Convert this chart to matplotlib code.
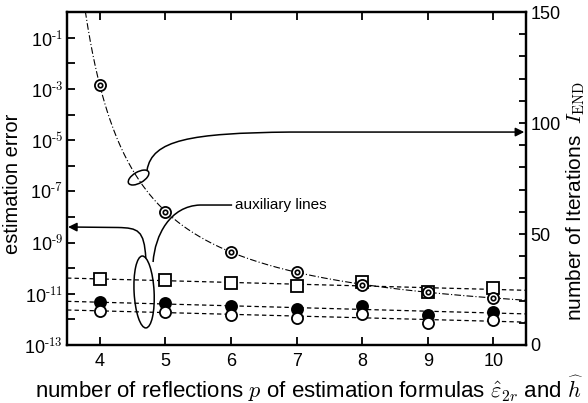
import matplotlib
matplotlib.use("Agg")
import matplotlib.pyplot as plt
import numpy as np
from matplotlib.patches import Ellipse, FancyArrowPatch, PathPatch
from matplotlib.path import Path
from matplotlib.ticker import FixedLocator, NullFormatter
from matplotlib.transforms import ScaledTranslation

plt.rcParams['font.family'] = ['Liberation Sans', 'DejaVu Sans']
plt.rcParams['mathtext.fontset'] = 'cm'

# number of reflections p
p = np.array([4, 5, 6, 7, 8, 9, 10])

# estimation errors (left axis, log scale)
err_sq = np.array([3.7e-11, 3.5e-11, 2.7e-11, 2.0e-11, 2.9e-11, 1.2e-11, 1.7e-11])
err_fill = np.array([4.6e-12, 4.2e-12, 3.3e-12, 2.5e-12, 3.4e-12, 1.5e-12, 2.0e-12])
err_open = np.array([2.1e-12, 2.0e-12, 1.5e-12, 1.15e-12, 1.6e-12, 7.4e-13, 9.3e-13])

# number of iterations I_END (right axis)
iters = np.array([117, 60, 42, 33, 27, 24, 21])

fig = plt.figure(figsize=(5.88, 4.03), dpi=100)
ax = fig.add_axes([0.114, 0.144, 0.781, 0.826])
ax2 = ax.twinx()

xx = np.linspace(3.5, 10.5, 200)

# auxiliary lines: least squares fits in log space
for err in (err_sq, err_fill, err_open):
    k, c = np.polyfit(p, np.log10(err), 1)
    ax.plot(xx, 10 ** (k * xx + c), color='black', lw=0.9, ls=(0, (3.5, 2.5)), zorder=2)

ax.plot(p, err_sq, ls='none', marker='s', ms=8.5, mfc='white', mec='black', mew=1.3, zorder=3)
ax.plot(p, err_fill, ls='none', marker='o', ms=8, mfc='black', mec='black', mew=1.3, zorder=3)
ax.plot(p, err_open, ls='none', marker='o', ms=8, mfc='white', mec='black', mew=1.3, zorder=4)

# iteration curve I = a + b/(p - c), c found by grid search
best = None
for cc in np.linspace(2.0, 3.9, 400):
    A = np.column_stack([np.ones_like(p, dtype=float), 1.0 / (p - cc)])
    coef, res, _, _ = np.linalg.lstsq(A, iters, rcond=None)
    r = np.sum((A @ coef - iters) ** 2)
    if best is None or r < best[0]:
        best = (r, cc, coef)
_, cc, coef = best
xc = np.linspace(cc + 0.05, 10.5, 400)
ax2.plot(xc, coef[0] + coef[1] / (xc - cc), color='black', lw=0.8,
         ls=(0, (6, 2, 1, 2)), zorder=2)
ax2.plot(p, iters, ls='none', marker='o', ms=8, mfc='white', mec='black', mew=1.3, zorder=5)
ax2.plot(p, iters, ls='none', marker='o', ms=3.2, mfc='white', mec='black', mew=1.2, zorder=6)

ax.set_xlim(3.5, 10.5)
ax.set_yscale('log')
ax.set_ylim(1e-13, 1)
ax.yaxis.set_major_locator(FixedLocator([10.0 ** e for e in range(-13, 0, 2)]))
ax.yaxis.set_minor_locator(FixedLocator([10.0 ** e for e in range(-12, 0, 2)]))
ax.yaxis.set_minor_formatter(NullFormatter())
ax.set_yticklabels([r'$\mathregular{10^{\text{-%d}}}$' % -e for e in range(-13, 0, 2)])
ax.set_xticks(p)

ax2.set_ylim(0, 150)
ax2.set_yticks([0, 50, 100, 150])
ax2.yaxis.set_minor_locator(FixedLocator(np.arange(0, 151, 10)))

for a in (ax, ax2):
    for s in a.spines.values():
        s.set_linewidth(1.6)
ax.tick_params(axis='both', which='both', direction='in', length=6, width=1.3,
               labelsize=13, top=True)
ax.tick_params(axis='x', pad=6)
ax.tick_params(axis='y', pad=3)
ax2.tick_params(axis='y', which='both', direction='in', length=5, width=1.3,
                labelsize=13, pad=3)

ax.set_ylabel('estimation error', fontsize=14.5)
ax.yaxis.set_label_coords(-0.098, 0.485)
ax2.set_ylabel(r'number of Iterations  $I_{\mathrm{END}}$', fontsize=15)
ax2.yaxis.set_label_coords(1.084, 0.432)
ax.set_xlabel(r'number of reflections $p$ of estimation formulas $\hat{\varepsilon}_{2r}$ and $\widehat{h}$',
              fontsize=16)
ax.xaxis.set_label_coords(0.528, -0.085)

# annotation ellipses and leader lines
def loop(cx, cy, w, h, ang):
    tr = fig.dpi_scale_trans + ScaledTranslation(cx, cy, ax.transAxes)
    ax.add_patch(Ellipse((0, 0), w, h, angle=ang, fill=False, lw=1.1,
                         ec='black', transform=tr, clip_on=False, zorder=7))

loop(0.1558, 0.5030, 0.23, 0.11, 30)
loop(0.1678, 0.1592, 0.20, 0.72, 3)

C, L, M = Path.CURVE4, Path.LINETO, Path.MOVETO
right = Path([(0.1743, 0.5255), (0.1852, 0.6156), (0.2680, 0.6366), (0.4858, 0.6396),
              (0.9956, 0.6396)], [M, C, C, C, L])
left = Path([(0.1715, 0.2613), (0.1678, 0.3453), (0.1547, 0.3514), (0.1111, 0.3529),
             (0.0022, 0.3544)], [M, C, C, C, L])
for pth in (right, left):
    ax.add_patch(FancyArrowPatch(path=pth, arrowstyle='-|>', mutation_scale=13,
                                 lw=1.1, color='black', transform=ax.transAxes,
                                 clip_on=False, zorder=7))
aux = Path([(0.1874, 0.2492), (0.1917, 0.3303), (0.2244, 0.4174), (0.2898, 0.4204),
            (0.3595, 0.4204)], [M, C, C, C, L])
ax.add_patch(PathPatch(aux, fill=False, lw=1.1, ec='black', transform=ax.transAxes, zorder=7))
ax.text(0.366, 0.4204, 'auxiliary lines', transform=ax.transAxes, fontsize=11,
        va='center', ha='left')

fig.savefig('out.png', dpi=100)
